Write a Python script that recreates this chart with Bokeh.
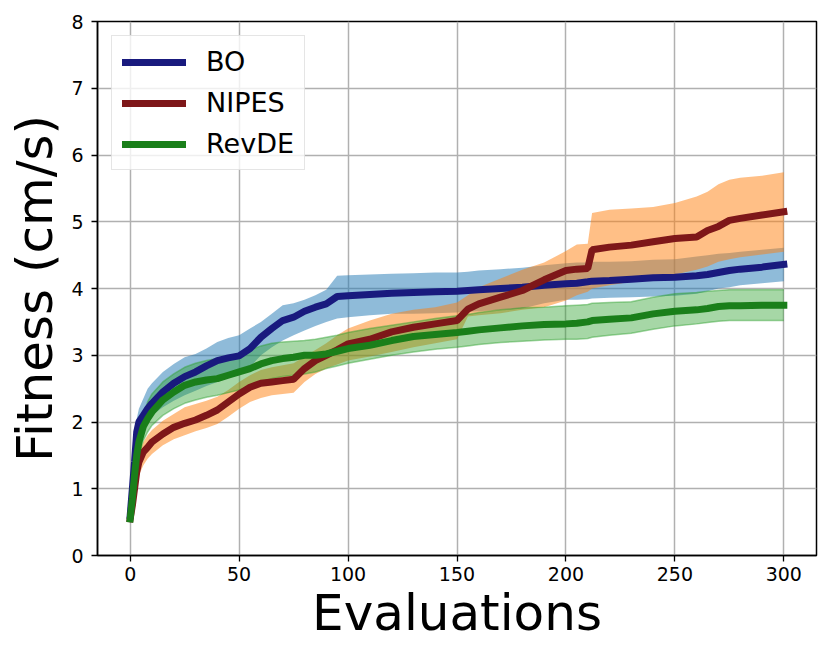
from bokeh.plotting import figure
from bokeh.models import ColumnDataSource, Range1d, FixedTicker, Legend, LegendItem
from bokeh.embed import file_html
from bokeh.resources import INLINE

evals = [0, 1, 2, 3, 4, 6, 8, 10, 15, 20, 25, 30, 35, 40, 45, 50, 55, 60, 65, 70,
         75, 80, 85, 90, 95, 100, 110, 120, 130, 140, 150, 155, 160, 170, 180, 190,
         200, 205, 210, 212, 220, 230, 240, 250, 260, 265, 270, 275, 280, 290, 300]

bo_mean = [0.6, 1.0, 1.4, 1.85, 2.0, 2.1, 2.2, 2.28, 2.45, 2.58, 2.68, 2.75, 2.84, 2.92, 2.96, 2.99,
           3.1, 3.27, 3.4, 3.52, 3.57, 3.66, 3.72, 3.77, 3.88, 3.89, 3.91, 3.93, 3.94, 3.95, 3.96,
           3.97, 3.98, 4.0, 4.02, 4.05, 4.07, 4.08, 4.1, 4.11, 4.12, 4.14, 4.16, 4.17, 4.19, 4.21,
           4.24, 4.27, 4.29, 4.32, 4.36]
bo_upper = [0.7, 1.2, 1.6, 2.05, 2.2, 2.35, 2.5, 2.58, 2.75, 2.87, 2.97, 3.02, 3.1, 3.2, 3.26, 3.3,
            3.4, 3.5, 3.62, 3.75, 3.78, 3.83, 3.9, 3.98, 4.19, 4.2, 4.21, 4.22, 4.23, 4.24, 4.24,
            4.25, 4.27, 4.29, 4.31, 4.35, 4.38, 4.39, 4.39, 4.4, 4.4, 4.41, 4.43, 4.44, 4.48, 4.5,
            4.52, 4.53, 4.55, 4.58, 4.61]
bo_lower = [0.5, 0.8, 1.2, 1.6, 1.8, 1.9, 2.0, 2.1, 2.22, 2.32, 2.4, 2.47, 2.54, 2.6, 2.66, 2.7,
            2.82, 3.0, 3.12, 3.22, 3.3, 3.37, 3.44, 3.5, 3.55, 3.57, 3.6, 3.62, 3.62, 3.63, 3.64,
            3.65, 3.66, 3.68, 3.7, 3.78, 3.83, 3.83, 3.84, 3.85, 3.86, 3.87, 3.88, 3.89, 3.92, 3.96,
            4.0, 4.02, 4.05, 4.08, 4.11]

nipes_mean = [0.55, 0.75, 1.0, 1.25, 1.4, 1.55, 1.62, 1.7, 1.82, 1.92, 1.98, 2.03, 2.1, 2.18, 2.3, 2.42,
              2.52, 2.58, 2.6, 2.62, 2.64, 2.8, 2.92, 3.0, 3.08, 3.17, 3.24, 3.35, 3.42, 3.47, 3.52,
              3.69, 3.77, 3.87, 3.97, 4.13, 4.27, 4.29, 4.3, 4.58, 4.62, 4.65, 4.7, 4.75, 4.77, 4.87,
              4.93, 5.02, 5.05, 5.1, 5.15]
nipes_upper = [0.6, 0.85, 1.15, 1.4, 1.55, 1.7, 1.8, 1.88, 2.02, 2.12, 2.22, 2.27, 2.32, 2.38, 2.48, 2.6,
               2.7, 2.78, 2.82, 2.85, 2.88, 2.98, 3.08, 3.18, 3.3, 3.4, 3.52, 3.62, 3.68, 3.72, 3.79,
               3.9, 4.02, 4.15, 4.28, 4.39, 4.56, 4.66, 4.67, 5.13, 5.18, 5.2, 5.22, 5.28, 5.38, 5.45,
               5.56, 5.63, 5.66, 5.69, 5.74]
nipes_lower = [0.5, 0.65, 0.85, 1.05, 1.2, 1.35, 1.45, 1.52, 1.65, 1.74, 1.8, 1.86, 1.91, 1.97, 2.08, 2.2,
               2.3, 2.36, 2.4, 2.42, 2.44, 2.6, 2.72, 2.8, 2.86, 2.92, 2.98, 3.05, 3.12, 3.18, 3.24,
               3.58, 3.6, 3.63, 3.68, 3.72, 3.82, 3.9, 3.95, 4.0, 4.05, 4.1, 4.15, 4.21, 4.28, 4.33,
               4.4, 4.44, 4.47, 4.51, 4.55]

revde_mean = [0.55, 0.85, 1.2, 1.5, 1.7, 1.93, 2.05, 2.15, 2.33, 2.45, 2.55, 2.6, 2.63, 2.65, 2.7, 2.75,
              2.8, 2.87, 2.92, 2.95, 2.97, 3.0, 3.0, 3.02, 3.06, 3.1, 3.15, 3.22, 3.28, 3.31, 3.34,
              3.36, 3.38, 3.41, 3.44, 3.46, 3.47, 3.48, 3.5, 3.52, 3.54, 3.56, 3.62, 3.66, 3.68, 3.7,
              3.73, 3.74, 3.74, 3.75, 3.75]
revde_upper = [0.6, 0.95, 1.35, 1.65, 1.85, 2.1, 2.3, 2.42, 2.6, 2.72, 2.82, 2.88, 2.92, 2.95, 2.98, 3.02,
               3.08, 3.14, 3.18, 3.2, 3.21, 3.22, 3.24, 3.27, 3.3, 3.34, 3.4, 3.45, 3.5, 3.55, 3.59,
               3.61, 3.64, 3.68, 3.71, 3.72, 3.74, 3.75, 3.76, 3.78, 3.79, 3.8, 3.87, 3.92, 3.94, 3.96,
               3.97, 3.98, 3.98, 3.98, 3.98]
revde_lower = [0.5, 0.75, 1.05, 1.3, 1.5, 1.72, 1.85, 1.95, 2.1, 2.2, 2.28, 2.33, 2.37, 2.4, 2.44, 2.48,
               2.53, 2.6, 2.65, 2.68, 2.7, 2.72, 2.75, 2.8, 2.84, 2.88, 2.94, 3.0, 3.05, 3.09, 3.12,
               3.14, 3.16, 3.19, 3.21, 3.23, 3.24, 3.24, 3.25, 3.27, 3.3, 3.33, 3.39, 3.44, 3.47, 3.49,
               3.51, 3.52, 3.52, 3.52, 3.52]

x_ticks = [0, 50, 100, 150, 200, 250, 300]
y_ticks = [0, 1, 2, 3, 4, 5, 6, 7, 8]
series_names = ["BO", "NIPES", "RevDE"]

src = ColumnDataSource(dict(
    x=evals,
    bo_m=bo_mean, bo_u=bo_upper, bo_l=bo_lower,
    ni_m=nipes_mean, ni_u=nipes_upper, ni_l=nipes_lower,
    re_m=revde_mean, re_u=revde_upper, re_l=revde_lower,
))

FONT = "DejaVu Sans"

p = figure(frame_width=719, frame_height=534, output_backend="svg", toolbar_location=None,
           x_range=Range1d(-15, 315), y_range=Range1d(0, 8),
           min_border_left=97, min_border_top=21, min_border_right=7, min_border_bottom=99)
p.outline_line_color = "black"
p.outline_line_width = 1.5
p.background_fill_color = "white"
p.border_fill_color = "white"

# bands
p.varea(x="x", y1="bo_l", y2="bo_u", source=src, fill_color="#1f77b4", fill_alpha=0.5)
p.varea(x="x", y1="ni_l", y2="ni_u", source=src, fill_color="#ff7f0e", fill_alpha=0.5)
p.varea(x="x", y1="re_l", y2="re_u", source=src, fill_color="#2ca02c", fill_alpha=0.42)
p.line(x="x", y="re_l", source=src, line_color="#2ca02c", line_alpha=0.45, line_width=1.5)
p.line(x="x", y="re_u", source=src, line_color="#2ca02c", line_alpha=0.45, line_width=1.5)

# mean lines
r_bo = p.line(x="x", y="bo_m", source=src, line_color="#191a7e", line_width=7, line_cap="square")
r_ni = p.line(x="x", y="ni_m", source=src, line_color="#7e1719", line_width=7, line_cap="square")
r_re = p.line(x="x", y="re_m", source=src, line_color="#1a7f1a", line_width=7, line_cap="square")

legend = Legend(items=[LegendItem(label=series_names[0], renderers=[r_bo]),
                       LegendItem(label=series_names[1], renderers=[r_ni]),
                       LegendItem(label=series_names[2], renderers=[r_re])],
                location="top_left")
legend.label_text_font = FONT
legend.label_text_font_size = "27px"
legend.label_text_color = "black"
legend.glyph_width = 64
legend.glyph_height = 30
legend.label_height = 30
legend.label_standoff = 20
legend.spacing = 10
legend.padding = 10
legend.margin = 14
legend.border_line_color = "#cccccc"
legend.border_line_width = 1.5
legend.background_fill_alpha = 0.8
legend.label_text_line_height = 1.0
p.add_layout(legend)

for ax in (p.xaxis, p.yaxis):
    ax.axis_line_color = "black"
    ax.axis_line_width = 1.5
    ax.major_tick_line_color = "black"
    ax.major_tick_line_width = 1.3
    ax.major_tick_out = 6
    ax.major_tick_in = 0
    ax.minor_tick_line_color = None
    ax.major_label_text_font = FONT
    ax.major_label_text_font_size = "19px"
    ax.major_label_text_color = "black"
    ax.axis_label_text_font = FONT
    ax.axis_label_text_font_size = "50px"
    ax.axis_label_text_font_style = "normal"
    ax.axis_label_text_color = "black"

p.xaxis.ticker = FixedTicker(ticks=x_ticks)
p.yaxis.ticker = FixedTicker(ticks=y_ticks)
p.xaxis.axis_label = "Evaluations"
p.yaxis.axis_label = "Fitness (cm/s)"
p.xaxis.major_label_standoff = 5
p.yaxis.major_label_standoff = 8
p.xaxis.axis_label_standoff = 0
p.yaxis.axis_label_standoff = 4

p.xgrid.ticker = FixedTicker(ticks=x_ticks)
p.ygrid.ticker = FixedTicker(ticks=y_ticks)
for g in (p.xgrid, p.ygrid):
    g.grid_line_color = "#b0b0b0"
    g.grid_line_width = 1.5
    g.grid_line_alpha = 1.0

open("out.html", "w").write(file_html(p, INLINE))
